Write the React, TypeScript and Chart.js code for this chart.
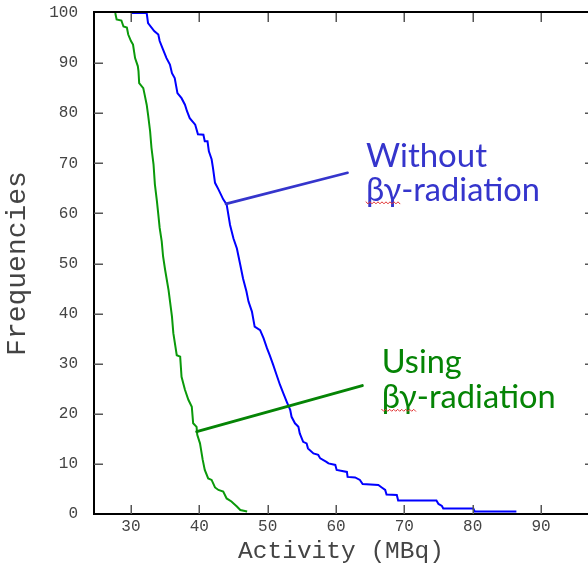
import React, { useEffect, useRef } from 'react';
import { Chart, registerables } from 'chart.js';

Chart.register(...registerables);

// ---- axis ranges / ticks ----
const X_MIN = 24.59;
const X_MAX = 96.88;
const Y_MIN = 0;
const Y_MAX = 100;
const X_STEP = 10;
const Y_STEP = 10;
const X_TITLE = 'Activity (MBq)';
const Y_TITLE = 'Frequencies';

// ---- series: without βγ-radiation (blue) ----
const withoutX = [30.1, 32.3, 32.5, 33.4, 34.0, 34.2, 34.7, 35.2, 35.7, 36.0, 36.4, 36.8, 37.4, 37.9, 38.2, 38.6, 39.4, 39.8, 40.6, 40.8, 41.2, 41.4, 41.8, 42.0, 42.3, 42.8, 43.5, 44.0, 44.5, 45.0, 45.5, 46.0, 46.4, 46.9, 47.2, 47.7, 48.1, 48.9, 49.4, 49.9, 50.3, 50.8, 51.3, 51.8, 52.3, 52.8, 53.3, 53.5, 54.0, 54.5, 54.7, 55.2, 55.7, 55.9, 56.7, 57.4, 57.7, 58.6, 58.9, 59.9, 60.1, 61.6, 61.7, 62.8, 63.5, 63.9, 66.2, 66.7, 67.2, 67.4, 68.9, 69.1, 74.7, 75.0, 75.5, 75.7, 80.1, 80.3, 86.4];
const withoutY = [100, 100, 98.0, 96.4, 95.7, 94.4, 92.7, 91.0, 89.7, 88.0, 87.0, 84.0, 83.0, 81.7, 80.4, 79.0, 77.7, 75.8, 75.7, 74.4, 74.4, 72.4, 70.8, 69.1, 66.1, 64.8, 62.8, 61.8, 57.7, 55.0, 53.0, 49.7, 47.0, 44.4, 42.4, 40.4, 37.4, 36.7, 35.1, 33.1, 31.7, 29.8, 27.8, 25.8, 24.1, 22.4, 20.8, 19.4, 18.1, 17.4, 16.1, 14.4, 14.1, 13.1, 12.1, 11.8, 11.1, 10.4, 10.1, 9.8, 8.8, 8.4, 7.4, 7.3, 6.8, 6.0, 5.8, 5.3, 4.8, 3.9, 3.8, 2.7, 2.7, 2.0, 1.6, 1.1, 1.1, 0.5, 0.5];

// ---- series: using βγ-radiation (green) ----
const usingX = [27.7, 27.9, 28.6, 28.9, 29.4, 29.6, 30.0, 30.3, 30.6, 31.0, 31.1, 31.2, 31.8, 32.0, 32.3, 32.5, 32.8, 33.0, 33.3, 33.5, 33.8, 34.0, 34.2, 34.5, 34.7, 35.0, 35.5, 36.0, 36.2, 36.7, 37.2, 37.4, 37.9, 38.4, 38.9, 39.1, 39.6, 39.7, 40.1, 40.5, 40.8, 41.3, 41.8, 42.3, 42.8, 43.5, 44.0, 44.7, 45.5, 46.0, 47.0];
const usingY = [100, 98.7, 98.5, 97.3, 97.1, 95.7, 94.4, 93.7, 91.0, 89.4, 88.4, 86.0, 85.0, 83.7, 81.7, 79.7, 76.4, 73.1, 69.8, 65.8, 62.4, 59.8, 57.1, 54.4, 51.4, 48.7, 44.7, 39.4, 36.1, 31.7, 31.4, 27.4, 24.8, 22.8, 21.4, 18.1, 17.4, 15.8, 14.1, 10.8, 8.8, 7.1, 6.8, 5.3, 4.8, 4.5, 3.1, 2.5, 1.5, 0.8, 0.5];

// ---- annotations (data coordinates) ----
const withoutLabel = ['Without', 'βγ-radiation'];
const usingLabel = ['Using', 'βγ-radiation'];
const withoutPointerX = [43.9, 61.7];
const withoutPointerY = [61.9, 68.1];
const usingPointerX = [39.62, 63.85];
const usingPointerY = [16.44, 25.62];
const withoutTextX = 64.39;
const withoutTextY = [69.36, 62.51];
const usingTextX = 66.69;
const usingTextY = [28.1, 21.1];

// styles
const BLUE = '#0000ff';
const GREEN = '#0a990a';
const BLUE_NOTE = '#3535cc';
const GREEN_NOTE = '#058405';
const AXIS_TEXT = '#444444';
const MONO = "'Liberation Mono', 'DejaVu Sans Mono', monospace";
const NOTE_FONT = "Lato, 'Noto Sans', sans-serif";
const withoutWidths = [121, 174];
const usingWidths = [80, 174];

const toPoints = (xs: number[], ys: number[]) => xs.map((x, i) => ({ x, y: ys[i] }));

const overlayPlugin = {
  id: 'overlay',
  beforeDatasetsDraw(chart: any) {
    const { ctx, chartArea: a } = chart;
    ctx.save();
    ctx.strokeStyle = '#000';
    ctx.lineWidth = 2;
    ctx.beginPath();
    ctx.moveTo(a.left - 1, a.top - 1);
    ctx.lineTo(a.right, a.top - 1);
    ctx.stroke();
    ctx.restore();
  },
  afterDatasetsDraw(chart: any) {
    const { ctx, chartArea: a, scales } = chart;
    const xs = scales.x;
    const ys = scales.y;
    ctx.save();
    // inward tick marks
    ctx.strokeStyle = '#555';
    ctx.lineWidth = 1.5;
    const TL = 9;
    xs.ticks.forEach((t: any) => {
      const px = Math.round(xs.getPixelForValue(t.value)) + 0.25;
      ctx.beginPath();
      ctx.moveTo(px, a.bottom);
      ctx.lineTo(px, a.bottom - TL);
      ctx.moveTo(px, a.top);
      ctx.lineTo(px, a.top + TL);
      ctx.stroke();
    });
    ys.ticks.forEach((t: any) => {
      const py = Math.round(ys.getPixelForValue(t.value)) + 0.25;
      if (t.value === Y_MIN || t.value === Y_MAX) return;
      ctx.beginPath();
      ctx.moveTo(a.left, py);
      ctx.lineTo(a.left + TL, py);
      ctx.moveTo(a.right, py);
      ctx.lineTo(a.right - 3, py);
      ctx.stroke();
    });

    // pointer lines
    const pointer = (px: number[], py: number[], color: string, w: number) => {
      ctx.strokeStyle = color;
      ctx.lineWidth = w;
      ctx.lineCap = 'round';
      ctx.beginPath();
      ctx.moveTo(xs.getPixelForValue(px[0]), ys.getPixelForValue(py[0]));
      ctx.lineTo(xs.getPixelForValue(px[1]), ys.getPixelForValue(py[1]));
      ctx.stroke();
    };
    pointer(withoutPointerX, withoutPointerY, BLUE_NOTE, 2.6);
    pointer(usingPointerX, usingPointerY, GREEN_NOTE, 3);

    // labels
    const label = (lines: string[], tx: number, tyArr: number[], widths: number[], color: string) => {
      ctx.font = `33px ${NOTE_FONT}`;
      ctx.fillStyle = color;
      ctx.textAlign = 'left';
      ctx.textBaseline = 'alphabetic';
      lines.forEach((line, i) => {
        const x0 = xs.getPixelForValue(tx);
        const y0 = ys.getPixelForValue(tyArr[i]);
        const m = ctx.measureText(line).width;
        const sx = widths[i] / m;
        ctx.save();
        ctx.translate(x0, y0);
        ctx.scale(sx, 1);
        ctx.fillText(line, 0, 0);
        ctx.restore();
        if (line.startsWith('βγ')) {
          const w = ctx.measureText('βγ').width * sx;
          ctx.save();
          ctx.strokeStyle = '#e03030';
          ctx.lineWidth = 1;
          ctx.beginPath();
          let up = true;
          for (let xx = 0; xx <= w; xx += 2) {
            const yy = y0 + (up ? 1 : 3);
            if (xx === 0) ctx.moveTo(x0 + xx, yy);
            else ctx.lineTo(x0 + xx, yy);
            up = !up;
          }
          ctx.stroke();
          ctx.restore();
        }
      });
    };
    label(withoutLabel, withoutTextX, withoutTextY, withoutWidths, BLUE_NOTE);
    label(usingLabel, usingTextX, usingTextY, usingWidths, GREEN_NOTE);
    ctx.restore();
  },
};

export default function App() {
  const ref = useRef<HTMLCanvasElement | null>(null);
  useEffect(() => {
    if (!ref.current) return;
    const chart = new Chart(ref.current, {
      type: 'line',
      data: {
        datasets: [
          {
            label: 'Without βγ-radiation',
            data: toPoints(withoutX, withoutY),
            borderColor: BLUE,
            borderWidth: 2,
            pointRadius: 0,
            tension: 0,
            fill: false,
          },
          {
            label: 'Using βγ-radiation',
            data: toPoints(usingX, usingY),
            borderColor: GREEN,
            borderWidth: 2,
            pointRadius: 0,
            tension: 0,
            fill: false,
          },
        ],
      },
      options: {
        responsive: false,
        animation: false,
        devicePixelRatio: 1,
        layout: { padding: { top: 13, left: 0, right: 0, bottom: 0 } },
        plugins: { legend: { display: false }, tooltip: { enabled: false } },
        scales: {
          x: {
            type: 'linear',
            min: X_MIN,
            max: X_MAX,
            grid: { display: true, drawOnChartArea: false, drawTicks: false },
            border: { display: true, color: '#000', width: 2 },
            ticks: {
              stepSize: X_STEP,
              includeBounds: false,
              padding: 3,
              color: AXIS_TEXT,
              font: { family: MONO, size: 16 },
              maxRotation: 0,
            },
            title: {
              display: true,
              text: X_TITLE,
              color: AXIS_TEXT,
              font: { family: MONO, size: 24.5, lineHeight: 1 },
              padding: { top: 0, bottom: 0 },
            },
            afterFit: (s: any) => {
              s.height = 50;
              s.paddingLeft = 0;
              s.paddingRight = 0;
            },
          },
          y: {
            type: 'linear',
            min: Y_MIN,
            max: Y_MAX,
            grid: { display: true, drawOnChartArea: false, drawTicks: false },
            border: { display: true, color: '#000', width: 2 },
            ticks: {
              stepSize: Y_STEP,
              padding: 16,
              color: AXIS_TEXT,
              font: { family: MONO, size: 16 },
            },
            title: {
              display: true,
              text: Y_TITLE,
              color: AXIS_TEXT,
              font: { family: MONO, size: 28, lineHeight: 1.2 },
              padding: { top: 1, bottom: 0 },
            },
            afterFit: (s: any) => {
              s.width = 94;
              s.paddingTop = 0;
              s.paddingBottom = 0;
            },
          },
        },
      },
      plugins: [overlayPlugin],
    });
    return () => chart.destroy();
  }, []);
  return (
    <div style={{ position: 'fixed', left: 0, top: 0, width: 588, height: 564, background: '#fff' }}>
      <canvas ref={ref} width={588} height={564} />
    </div>
  );
}
